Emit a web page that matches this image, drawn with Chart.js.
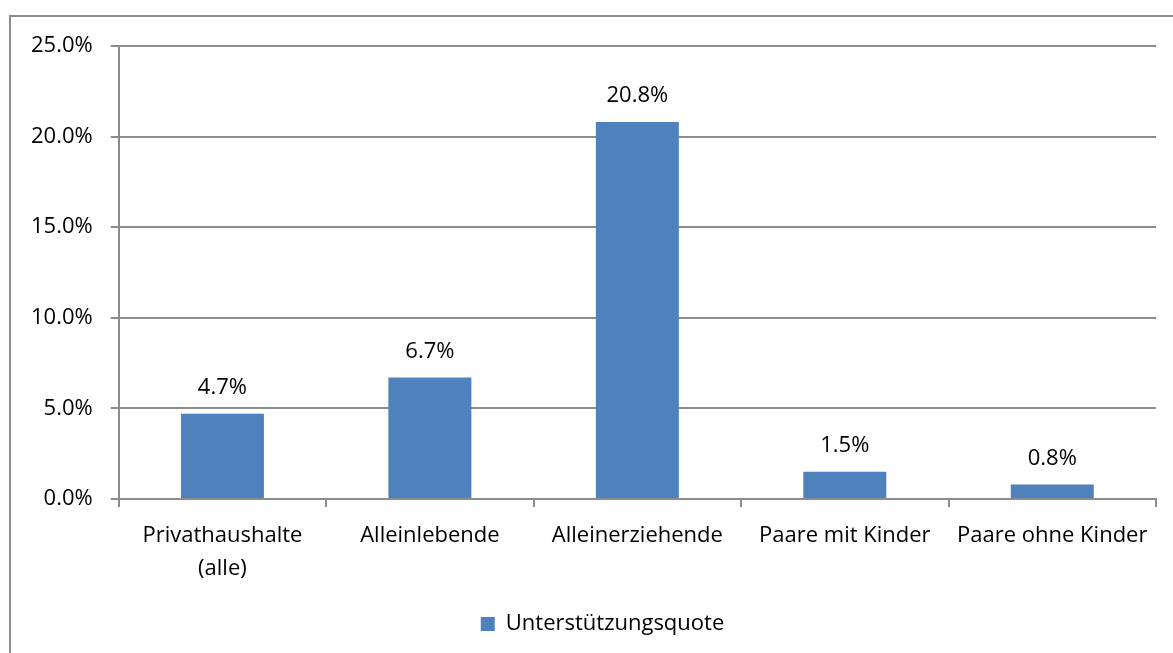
<!DOCTYPE html>
<html>
<head>
    <meta charset="utf-8">
    <title>Unterstützungsquote</title>
    <style>
        body{
            margin:0;
            background:white;
            overflow:hidden;
        }
        .frame{
            position:absolute;
            left:9px;
            top:15px;
            width:1200px;
            height:700px;
            border:2px solid #8c8c8c;
        }
        .wrap{
            position:absolute;
            left:0;
            top:0;
            width:1173px;
            height:653px;
        }
    </style>
</head>
<body>
<div class="frame"></div>
<div class="wrap"><canvas id="quote"></canvas></div>

<script src="https://cdn.jsdelivr.net/npm/chart.js@4.4.1/dist/chart.umd.min.js"></script>
<script>
    const categories = [["Privathaushalte", "(alle)"], "Alleinlebende", "Alleinerziehende", "Paare mit Kinder", "Paare ohne Kinder"];
    const quote = [4.7, 6.7, 20.8, 1.5, 0.8];
    const seriesName = "Unterstützungsquote";

    const fontFamily = "'Open Sans', sans-serif";

    // value labels above the bars
    const barLabels = {
        id: "barLabels",
        afterLayout(chart) {
            // legend sits a bit right of the middle in the original
            chart.legend.left += 36;
        },
        afterDatasetsDraw(chart) {
            const ctx = chart.ctx;
            const meta = chart.getDatasetMeta(0);
            ctx.save();
            ctx.font = "22px " + fontFamily;
            ctx.fillStyle = "#000";
            ctx.textAlign = "center";
            ctx.textBaseline = "middle";
            meta.data.forEach((bar, i) => {
                ctx.fillText(quote[i].toFixed(1) + "%", bar.x, bar.y - 26);
            });
            ctx.restore();
        }
    };

    new Chart("quote", {
        type: "bar",
        data: {
            labels: categories,
            datasets: [{
                label: seriesName,
                data: quote,
                backgroundColor: "#4f81bd",
                barPercentage: 0.4,
                categoryPercentage: 1.0
            }]
        },
        options: {
            responsive: true,
            maintainAspectRatio: false,
            animation: false,
            layout: {padding: {left: 13, right: 17, top: 46, bottom: 8}},
            plugins: {
                legend: {
                    position: "bottom",
                    labels: {
                        boxWidth: 14,
                        boxHeight: 14,
                        color: "#000",
                        padding: 16,
                        font: {family: fontFamily, size: 22}
                    }
                },
                tooltip: {enabled: false}
            },
            scales: {
                x: {
                    grid: {drawOnChartArea: false, color: "#8c8c8c", tickLength: 8, lineWidth: 2},
                    border: {color: "#8c8c8c", width: 2},
                    ticks: {color: "#000", padding: 12, maxRotation: 0, font: {family: fontFamily, size: 22, lineHeight: 1.5}}
                },
                y: {
                    min: 0,
                    max: 25,
                    grid: {color: "#8c8c8c", tickLength: 8, lineWidth: 2},
                    border: {color: "#8c8c8c", width: 2},
                    ticks: {
                        stepSize: 5,
                        color: "#000",
                        padding: 18,
                        font: {family: fontFamily, size: 22},
                        callback: v => v.toFixed(1) + "%"
                    }
                }
            }
        },
        plugins: [barLabels]
    });
</script>
</body>
</html>
